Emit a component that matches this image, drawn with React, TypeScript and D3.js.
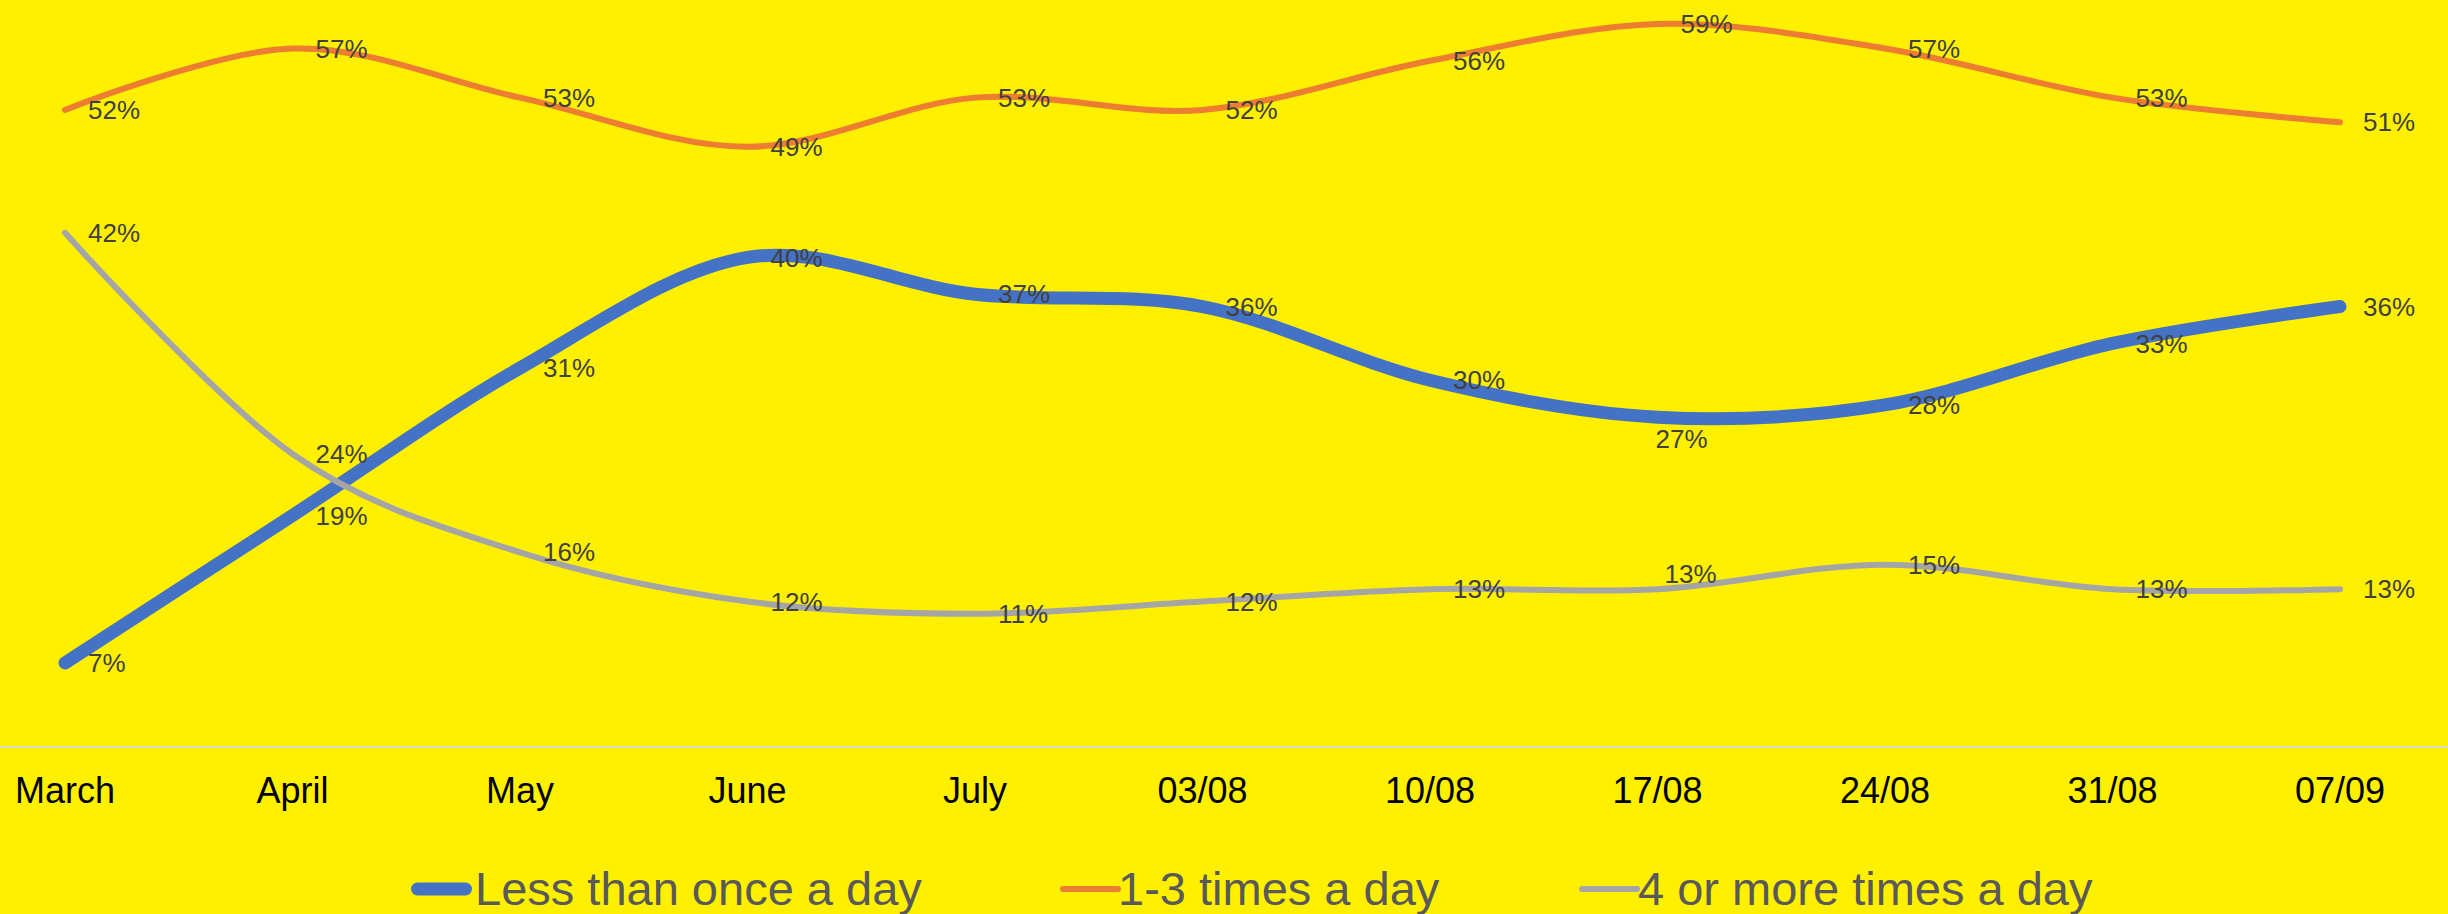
import React from "react";
import * as d3 from "d3";

const categories = ["March", "April", "May", "June", "July", "03/08", "10/08", "17/08", "24/08", "31/08", "07/09"];
const lessThanOnce = [0.07, 0.19, 0.31, 0.40, 0.37, 0.36, 0.30, 0.27, 0.28, 0.33, 0.36];
const oneToThree = [0.52, 0.57, 0.53, 0.49, 0.53, 0.52, 0.56, 0.59, 0.57, 0.53, 0.51];
const fourOrMore = [0.42, 0.24, 0.16, 0.12, 0.11, 0.12, 0.13, 0.13, 0.15, 0.13, 0.13];
const seriesNames = ["Less than once a day", "1-3 times a day", "4 or more times a day"];

const W = 2448;
const H = 914;
const FONT = "'Liberation Sans', Arial, sans-serif";

const series = [
  { name: seriesNames[0], values: lessThanOnce, color: "#4472C4", width: 13 },
  { name: seriesNames[1], values: oneToThree, color: "#ED7D31", width: 6 },
  { name: seriesNames[2], values: fourOrMore, color: "#A5A5A5", width: 6 },
];

// manual label nudges (series index -> point index -> [dx, dy])
const labelNudge: Record<string, [number, number]> = {
  "0-7": [-25, 22],
  "2-7": [-16, -15],
};

const legendPos = [
  { sx: 411, tx: 475 },
  { sx: 1060, tx: 1118 },
  { sx: 1579, tx: 1638 },
];

export default function App() {
  const x = d3.scalePoint<string>().domain(categories).range([65, 2340]);
  const y = d3.scaleLinear().domain([0, 0.6]).range([749, 11.6]);
  const fmt = d3.format(".0%");
  const line = d3
    .line<number>()
    .x((_, i) => x(categories[i]) as number)
    .y((d) => y(d))
    .curve(d3.curveCardinal.tension(0));

  return (
    <svg
      width={W}
      height={H}
      style={{ position: "absolute", left: 0, top: 0, display: "block" }}
      fontFamily={FONT}
    >
      <rect x={0} y={0} width={W} height={H} fill="#FFF000" />
      <line x1={0} x2={W} y1={747} y2={747} stroke="#D9D9D9" strokeWidth={2} />
      {categories.map((c) => (
        <text key={c} x={x(c)} y={803} textAnchor="middle" fontSize={36} fill="#000">
          {c}
        </text>
      ))}
      {series.map((s) => (
        <path
          key={s.name}
          d={line(s.values) || ""}
          fill="none"
          stroke={s.color}
          strokeWidth={s.width}
          strokeLinecap="round"
          strokeLinejoin="round"
        />
      ))}
      {series.map((s, si) =>
        s.values.map((v, i) => {
          const n = labelNudge[`${si}-${i}`] || [0, 0];
          return (
            <text
              key={`${si}-${i}`}
              x={(x(categories[i]) as number) + 23 + n[0]}
              y={y(v) + n[1]}
              dy="0.35em"
              fontSize={26}
              fill="#404040"
            >
              {fmt(v)}
            </text>
          );
        })
      )}
      {series.map((s, si) => (
        <g key={s.name}>
          <line
            x1={legendPos[si].sx + s.width / 2}
            x2={legendPos[si].sx + 61 - s.width / 2}
            y1={889}
            y2={889}
            stroke={s.color}
            strokeWidth={s.width}
            strokeLinecap="round"
          />
          <text x={legendPos[si].tx} y={905} fontSize={47} fill="#595959">
            {s.name}
          </text>
        </g>
      ))}
    </svg>
  );
}
